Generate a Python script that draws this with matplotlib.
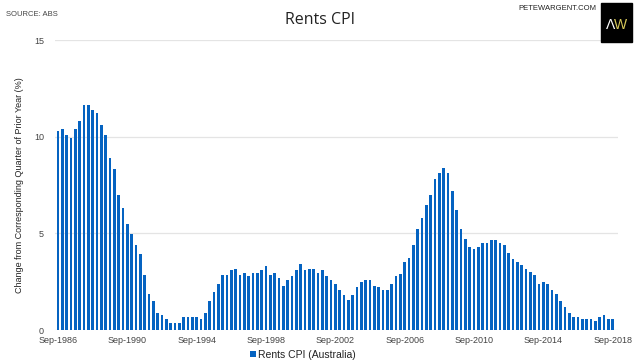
import matplotlib.pyplot as plt
from matplotlib.patches import Rectangle

# quarterly rents CPI, % change on same quarter a year earlier (Sep-1986 .. Sep-2018)
rents = [
    10.31, 10.40, 10.09, 9.91, 10.40, 10.80, 11.62, 11.62, 11.39, 11.22,
    10.61, 10.09, 8.90, 8.31, 7.00, 6.31, 5.48, 4.97, 4.40, 3.91,
    2.87, 1.88, 1.48, 0.89, 0.78, 0.57, 0.38, 0.38, 0.38, 0.68,
    0.68, 0.68, 0.68, 0.57, 0.89, 1.48, 1.98, 2.38, 2.87, 2.87,
    3.10, 3.18, 2.87, 2.97, 2.78, 2.97, 2.97, 3.10, 3.29, 2.87,
    2.97, 2.68, 2.30, 2.59, 2.78, 3.10, 3.39, 3.10, 3.18, 3.18,
    2.97, 3.10, 2.78, 2.59, 2.40, 2.09, 1.79, 1.57, 1.79, 2.21,
    2.49, 2.59, 2.59, 2.30, 2.21, 2.07, 2.07, 2.38, 2.78, 2.89,
    3.50, 3.70, 4.40, 5.20, 5.79, 6.49, 6.99, 7.79, 8.10, 8.40,
    8.10, 7.20, 6.21, 5.20, 4.70, 4.30, 4.19, 4.30, 4.49, 4.49,
    4.66, 4.66, 4.49, 4.38, 3.98, 3.69, 3.50, 3.37, 3.18, 2.99,
    2.87, 2.38, 2.49, 2.38, 2.07, 1.88, 1.48, 1.17, 0.87, 0.66,
    0.66, 0.57, 0.57, 0.57, 0.47, 0.66, 0.77, 0.57, 0.57,
]
first_year = 1986
tick_years = [1986, 1990, 1994, 1998, 2002, 2006, 2010, 2014, 2018]
y_ticks = [0, 5, 10, 15]

bar_color = "#0563c1"
text_color = "#444444"

plt.rcParams["font.family"] = ["Liberation Sans", "DejaVu Sans"]

fig = plt.figure(figsize=(6.4, 3.64), dpi=100)
ax = fig.add_axes([55 / 640, 34 / 364, 563 / 640, 290 / 364])

x = list(range(len(rents)))
ax.bar(x, rents, width=0.62, color=bar_color, label="Rents CPI (Australia)", zorder=2)

ax.set_ylim(0, 15)
ax.set_xlim(-0.7, len(rents) - 1 + 1.2)
ax.set_yticks(y_ticks)
ax.set_yticklabels([str(v) for v in y_ticks])
tick_pos = [(yr - first_year) * 4 for yr in tick_years]
ax.set_xticks(tick_pos)
ax.set_xticklabels([f"Sep-{yr}" for yr in tick_years])
ax.tick_params(axis="both", length=0, labelsize=6.5, colors=text_color)
ax.tick_params(axis="y", pad=8)
ax.tick_params(axis="x", pad=4)
ax.grid(axis="y", color="#e4e4e4", linewidth=0.9, zorder=0)
for s in ax.spines.values():
    s.set_visible(False)

ax.set_ylabel("Change from Corresponding Quarter of Prior Year (%)", fontsize=6.5,
              color="#222222", labelpad=7)

# title and header texts
fig.text(0.5, 1 - 20 / 364, "Rents CPI", ha="center", va="center",
         fontsize=11.5, family=["Open Sans", "DejaVu Sans"], color="#222222")
fig.text(6 / 640, 1 - 14 / 364, "SOURCE: ABS", ha="left", va="center",
         fontsize=5.5, color=text_color)
fig.text(596 / 640, 1 - 9 / 364, "PETEWARGENT.COM", ha="right", va="center",
         fontsize=5.5, color="#222222")

# logo box
fig.patches.append(Rectangle((601 / 640, 1 - 42 / 364), 31 / 640, 39 / 364,
                             transform=fig.transFigure, color="black"))
fig.text(611 / 640, 1 - 25 / 364, "Λ", ha="center", va="center",
         fontsize=10, color="white")
fig.text(621 / 640, 1 - 25 / 364, "W", ha="center", va="center",
         fontsize=10, color="#d8c95a")

ax.legend(loc="center", bbox_to_anchor=((303 - 55) / 563, -(355 - 330) / 290),
          frameon=False, fontsize=7.5, handlelength=0.55, handleheight=0.55,
          handletextpad=0.2, borderpad=0, labelcolor="#222222")

fig.savefig("out.png", dpi=100)
